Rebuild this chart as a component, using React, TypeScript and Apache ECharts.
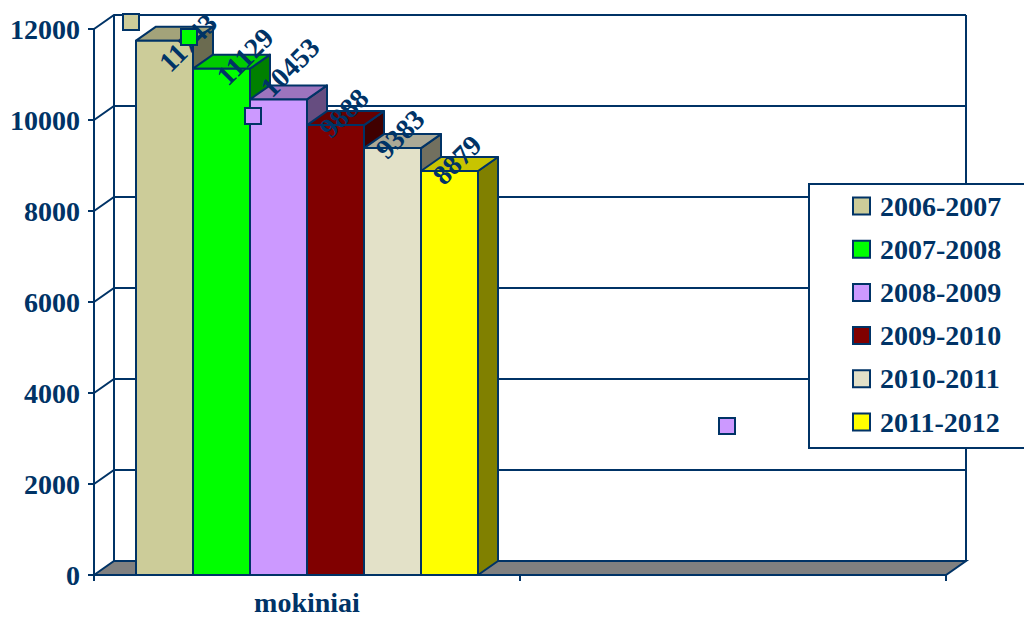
import React, { useEffect, useRef } from "react";
import * as echarts from "echarts";

const categories = ["mokiniai", ""];
const seasons = ["2006-2007", "2007-2008", "2008-2009", "2009-2010", "2010-2011", "2011-2012"];
const pupils = [11743, 11129, 10453, 9888, 9383, 8879];
const yTicks = [0, 2000, 4000, 6000, 8000, 10000, 12000];
const faceColors = ["#CCCC99", "#00FF00", "#CC99FF", "#800000", "#E3E1C8", "#FFFF00"];
const topColors = ["#A3A37A", "#00CC00", "#9C74BE", "#660000", "#ABA996", "#C8C400"];
const sideColors = ["#6B6B50", "#008000", "#664D80", "#400000", "#72705F", "#808000"];

const INK = "#003366";
const FONT = '"Liberation Serif", "Times New Roman", serif';
const DX = 20;
const DY = -14;
// hand placement of the rotated value labels, relative to each bar's front top-left corner
const labelDx = [52, 52, 40, 37, 36, 36];
const labelDy = [2, -12, -32, -12, -14, -11];

const bar3d = (i: number) => (params: any, api: any) => {
  const bandW = api.size([1, 0])[0];
  const w = bandW / (6 + 84 / 57);
  const [cx, y] = api.coord([0, api.value(1)]);
  const [, y0] = api.coord([0, 0]);
  const x = cx - 3 * w + i * w;
  const line = { stroke: INK, lineWidth: 2, lineJoin: "round" };
  return {
    type: "group",
    children: [
      {
        type: "polygon",
        shape: { points: [[x + w, y], [x + w + DX, y + DY], [x + w + DX, y0 + DY], [x + w, y0]] },
        style: { fill: sideColors[i], ...line },
      },
      {
        type: "polygon",
        shape: { points: [[x, y], [x + DX, y + DY], [x + w + DX, y + DY], [x + w, y]] },
        style: { fill: topColors[i], ...line },
      },
      {
        type: "rect",
        shape: { x, y, width: w, height: y0 - y },
        style: { fill: faceColors[i], ...line },
      },
      {
        type: "text",
        z2: 100,
        x: x + labelDx[i],
        y: y + labelDy[i],
        rotation: Math.PI / 4,
        style: {
          text: String(api.value(1)),
          fill: INK,
          font: `bold 28px ${FONT}`,
          align: "center",
          verticalAlign: "middle",
        },
      },
    ],
  };
};

const walls = (params: any, api: any) => {
  const v = api.value(1);
  const g = params.coordSys;
  const [, y] = api.coord([0, v]);
  const left = g.x;
  const right = g.x + g.width;
  const line = { stroke: INK, lineWidth: 2, fill: "none" };
  const children: any[] = [];
  if (v === 0) {
    children.push({
      type: "polygon",
      shape: { points: [[left, y], [left + DX, y + DY], [right + DX, y + DY], [right, y]] },
      style: { fill: "#808080", stroke: INK, lineWidth: 2 },
    });
    const [, top] = api.coord([0, yTicks[yTicks.length - 1]]);
    children.push({ type: "line", shape: { x1: left + DX, y1: y + DY, x2: left + DX, y2: top + DY }, style: line });
    children.push({ type: "line", shape: { x1: right + DX, y1: y + DY, x2: right + DX, y2: top + DY }, style: line });
  } else {
    children.push({
      type: "polyline",
      shape: { points: [[left, y], [left + DX, y + DY], [right + DX, y + DY]] },
      style: line,
    });
  }
  return { type: "group", children };
};

const strayMarker = (x: number, y: number, fill: string) => ({
  type: "rect",
  z: 50,
  shape: { x: x - 8, y: y - 8, width: 16, height: 16 },
  style: { fill, stroke: INK, lineWidth: 2 },
});

export default function App() {
  const ref = useRef<HTMLDivElement>(null);
  useEffect(() => {
    const chart = echarts.init(ref.current!, undefined, { renderer: "svg" });
    chart.setOption({
      animation: false,
      backgroundColor: "#ffffff",
      grid: { left: 94, right: 78, top: 29, bottom: 42, outerBoundsMode: "none" },
      legend: {
        orient: "vertical",
        left: 809,
        top: 184,
        z: 20,
        padding: [8, 120, 12, 43],
        itemGap: 15.2,
        itemWidth: 17,
        itemHeight: 17,
        backgroundColor: "#ffffff",
        borderColor: INK,
        borderWidth: 2,
        borderRadius: 0,
        icon: "rect",
        selectedMode: false,
        textStyle: {
          color: INK,
          fontFamily: FONT,
          fontWeight: "bold",
          fontSize: 28,
          lineHeight: 28,
          padding: [0, 0, 0, 5],
        },
        data: seasons.map((name, i) => ({
          name,
          itemStyle: { color: faceColors[i], borderColor: INK, borderWidth: 2 },
        })),
      },
      xAxis: {
        type: "category",
        data: categories,
        axisLine: { lineStyle: { color: INK, width: 2 } },
        axisTick: { show: true, alignWithLabel: false, length: 6, lineStyle: { color: INK, width: 2 } },
        axisLabel: { color: INK, fontFamily: FONT, fontWeight: "bold", fontSize: 28, lineHeight: 22, margin: 16 },
        splitLine: { show: false },
      },
      yAxis: {
        type: "value",
        min: 0,
        max: 12000,
        interval: 2000,
        axisLine: { show: true, lineStyle: { color: INK, width: 2 } },
        axisTick: { show: true, length: 6, lineStyle: { color: INK, width: 2 } },
        axisLabel: {
          color: INK,
          fontFamily: FONT,
          fontWeight: "bold",
          fontSize: 28,
          margin: 14,
          formatter: (v: number) => String(v),
        },
        splitLine: { show: false },
      },
      series: [
        {
          type: "custom",
          name: "walls",
          z: 1,
          renderItem: walls,
          encode: { x: 0, y: 1 },
          data: yTicks.map((v) => [0, v]),
          silent: true,
        },
        ...seasons.map((name, i) => ({
          type: "custom",
          name,
          z: 2,
          renderItem: bar3d(i),
          encode: { x: 0, y: 1 },
          itemStyle: { color: faceColors[i] },
          data: [[0, pupils[i]]],
        })),
      ],
      graphic: {
        elements: [
          strayMarker(131, 22, faceColors[0]),
          strayMarker(189, 37, faceColors[1]),
          strayMarker(253, 116, faceColors[2]),
          strayMarker(727, 426, faceColors[2]),
        ],
      },
    });
    return () => chart.dispose();
  }, []);
  return <div ref={ref} style={{ position: "absolute", left: 0, top: 0, width: 1024, height: 617 }} />;
}
